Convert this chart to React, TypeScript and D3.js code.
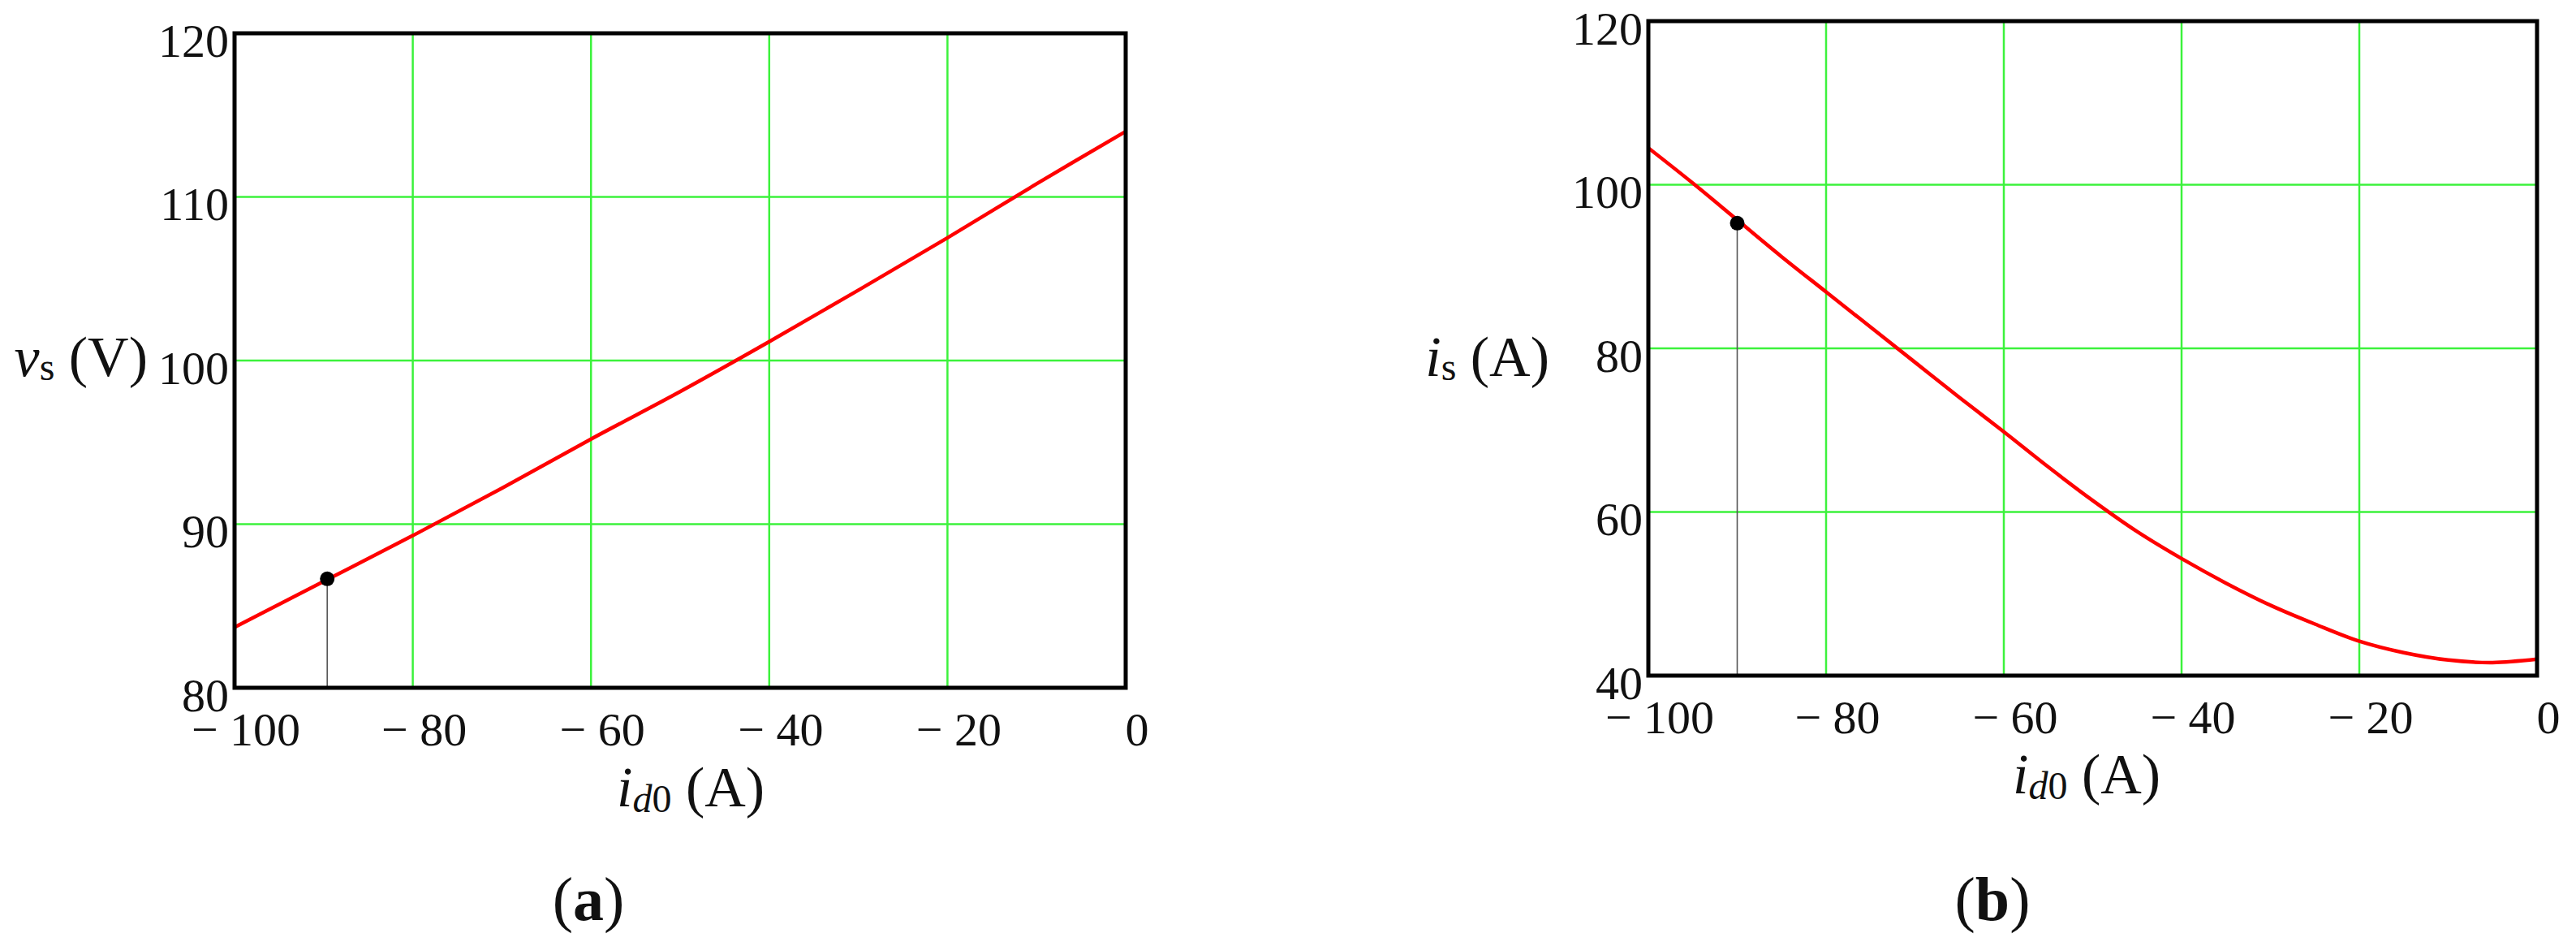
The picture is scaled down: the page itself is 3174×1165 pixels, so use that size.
import React from "react";
import * as d3 from "d3";

// ---------- data ----------
const xTicks = [-100, -80, -60, -40, -20, 0];
const vsTicks = [80, 90, 100, 110, 120];
const isTicks = [40, 60, 80, 100, 120];

const idA = [-100, -90, -80, -70, -60, -50, -40, -30, -20, -10, 0];
const vsA = [83.7, 86.5, 89.3, 92.2, 95.2, 98.1, 101.15, 104.3, 107.5, 110.8, 114.0];
const markA = { id: -89.6, v: 86.66 };

const idB = [-100, -95, -90, -85, -80, -75, -70, -65, -60, -55, -50, -45, -40, -35, -30, -25, -20, -15, -10, -5, 0];
const isB = [104.5, 100.2, 95.7, 91.2, 86.9, 82.6, 78.3, 74.0, 69.8, 65.5, 61.4, 57.6, 54.3, 51.3, 48.6, 46.3, 44.2, 42.8, 41.9, 41.6, 42.0];
const markB = { id: -90, v: 95.3 };

const FONT = "'Liberation Serif', 'Times New Roman', serif";
const GRID = "#3cf23c";
const TICK_FS = 58;
const TITLE_FS = 70;
const SUB_FS = 48;

function fmt(v: number) {
  return v < 0 ? `\u2212 ${Math.abs(v)}` : `${v}`;
}

type PanelProps = {
  left: number; right: number; top: number; bottom: number;
  yDomain: [number, number]; yTicks: number[];
  xs: number[]; ys: number[]; mark: { id: number; v: number };
  yTitle: React.ReactNode; yTitleX: number; yTitleY: number;
  xTitleX: number; xTitleY: number;
  letter: string; letterX: number; letterY: number;
};

function Panel(p: PanelProps) {
  const x = d3.scaleLinear().domain([-100, 0]).range([p.left, p.right]);
  const y = d3.scaleLinear().domain(p.yDomain).range([p.bottom, p.top]);
  const pts = p.xs.map((d, i) => [d, p.ys[i]] as [number, number]);
  const line = d3.line<[number, number]>().x(d => x(d[0])).y(d => y(d[1])).curve(d3.curveCatmullRom);
  return (
    <g>
      {xTicks.slice(1, -1).map(t => (
        <line key={"gx" + t} x1={x(t)} x2={x(t)} y1={p.top} y2={p.bottom} stroke={GRID} strokeWidth={2.5} />
      ))}
      {p.yTicks.slice(1, -1).map(t => (
        <line key={"gy" + t} x1={p.left} x2={p.right} y1={y(t)} y2={y(t)} stroke={GRID} strokeWidth={2.5} />
      ))}
      <line x1={x(p.mark.id)} x2={x(p.mark.id)} y1={y(p.mark.v)} y2={p.bottom} stroke="#555" strokeWidth={1.6} />
      <path d={line(pts) || ""} fill="none" stroke="#ff0000" strokeWidth={4.5} />
      <circle cx={x(p.mark.id)} cy={y(p.mark.v)} r={9} fill="#000" />
      <rect x={p.left} y={p.top} width={p.right - p.left} height={p.bottom - p.top} fill="none" stroke="#000" strokeWidth={5} />
      {p.yTicks.map(t => (
        <text key={"ty" + t} x={p.left - 7} y={y(t) + 9} textAnchor="end" dominantBaseline="central"
          fontFamily={FONT} fontSize={TICK_FS} fill="#111">{fmt(t)}</text>
      ))}
      {xTicks.map(t => (
        <text key={"tx" + t} x={x(t) + 14} y={p.bottom + 51} textAnchor="middle" dominantBaseline="central"
          fontFamily={FONT} fontSize={TICK_FS} fill="#111">{fmt(t)}</text>
      ))}
      <text x={p.yTitleX} y={p.yTitleY} textAnchor="end" fontFamily={FONT} fontSize={TITLE_FS} fill="#111">{p.yTitle}</text>
      <text x={p.xTitleX} y={p.xTitleY} fontFamily={FONT} fontSize={TITLE_FS} fill="#111">
        <tspan fontStyle="italic">i</tspan>
        <tspan fontStyle="italic" fontSize={SUB_FS} dy={7}>d</tspan>
        <tspan fontSize={SUB_FS}>0</tspan>
        <tspan dy={-7}> (A)</tspan>
      </text>
      <text x={p.letterX} y={p.letterY} textAnchor="middle" fontFamily={FONT} fontSize={76} fill="#111">
        (<tspan fontWeight="bold">{p.letter}</tspan>)
      </text>
    </g>
  );
}

export default function App() {
  return (
    <svg width={3174} height={1165} style={{ position: "absolute", left: 0, top: 0, background: "#fff" }}>
      <rect x={0} y={0} width={3174} height={1165} fill="#fff" />
      <Panel
        left={289} right={1387} top={41} bottom={847}
        yDomain={[80, 120]} yTicks={vsTicks}
        xs={idA} ys={vsA} mark={markA}
        yTitle={<>
          <tspan fontStyle="italic">v</tspan>
          <tspan fontSize={SUB_FS} dy={5}>s</tspan>
          <tspan dy={-5}> (V)</tspan>
        </>}
        yTitleX={182} yTitleY={463}
        xTitleX={760} xTitleY={993}
        letter="a" letterX={725} letterY={1133}
      />
      <Panel
        left={2031} right={3126} top={26} bottom={832}
        yDomain={[40, 120]} yTicks={isTicks}
        xs={idB} ys={isB} mark={markB}
        yTitle={<>
          <tspan fontStyle="italic">i</tspan>
          <tspan fontSize={SUB_FS} dy={5}>s</tspan>
          <tspan dy={-5}> (A)</tspan>
        </>}
        yTitleX={1909} yTitleY={463}
        xTitleX={2480} xTitleY={977}
        letter="b" letterX={2455} letterY={1133}
      />
    </svg>
  );
}
